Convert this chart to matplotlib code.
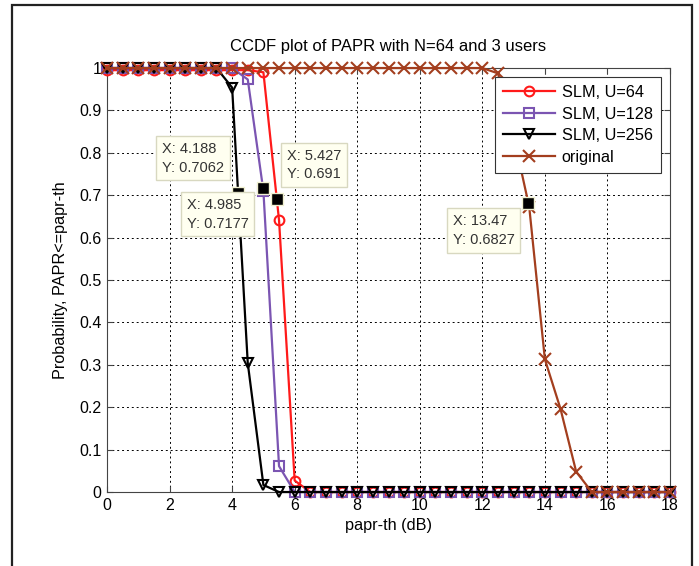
import matplotlib.pyplot as plt
import numpy as np
from matplotlib.patches import Rectangle

plt.rcParams['font.family'] = ['Liberation Sans', 'DejaVu Sans']

# threshold values (dB), one marker every 0.5 dB
papr_th = np.arange(0, 18.01, 0.5)

# CCDF values
slm_64 = [0.995] * 10 + [0.99, 0.641, 0.027] + [0.0] * 24
slm_128 = [1.0] * 9 + [0.973, 0.71, 0.061] + [0.0] * 25
slm_256 = [1.0] * 8 + [0.954, 0.304, 0.0165] + [0.0] * 26
original = [1.0] * 25 + [0.9875, 0.84, 0.672, 0.313, 0.196, 0.048] + [0.0] * 6

labels = ['SLM, U=64', 'SLM, U=128', 'SLM, U=256', 'original']
colors = ['#ff1a1a', '#7b55b2', '#000000', '#a33e1e']
markers = ['o', 's', 'v', 'x']

# data tips (x, y)
tip_x = [4.188, 4.985, 5.427, 13.47]
tip_y = [0.7062, 0.7177, 0.691, 0.6827]
tip_text = ['X: 4.188\nY: 0.7062', 'X: 4.985\nY: 0.7177',
            'X: 5.427\nY: 0.691', 'X: 13.47\nY: 0.6827']
tip_pos = [(1.76, 0.825), (2.55, 0.693), (5.76, 0.81), (11.05, 0.655)]

fig = plt.figure(figsize=(6.99, 5.66), dpi=100)
ax = fig.add_axes([0.1531, 0.1307, 0.8054, 0.7491])

series = [slm_64, slm_128, slm_256, original]
for vals, lab, c, m in zip(series, labels, colors, markers):
    ms = 8 if m == 'x' else 7
    ax.plot(papr_th, vals, color=c, marker=m, ms=ms, mfc='none', mec=c,
            mew=1.5, lw=1.6, label=lab, clip_on=False, zorder=3)

# data tip markers sit under the boxes
ax.plot(tip_x, tip_y, ls='none', marker='s', ms=8, mfc='black', mec='#f0f0d0',
        mew=1, zorder=4.5)
for (tx, ty), s in zip(tip_pos, tip_text):
    ax.text(tx, ty, s, ha='left', va='top', fontsize=10.5, color='#333333',
            linespacing=1.4, zorder=5,
            bbox=dict(boxstyle='square,pad=0.4', fc='#fffff0', ec='#d8d8c0', lw=1))

ax.set_xlim(0, 18)
ax.set_ylim(0, 1)
ax.set_xticks(np.arange(0, 19, 2))
ax.set_yticks(np.arange(0, 1.01, 0.1))
ax.set_yticklabels(['0', '0.1', '0.2', '0.3', '0.4', '0.5', '0.6', '0.7', '0.8', '0.9', '1'])
ax.tick_params(direction='in', top=True, right=True, labelsize=11.5, length=4,
               color='#444444', pad=4)
ax.grid(True, color='black', linestyle=(0, (2, 3)), linewidth=0.7)
for sp in ax.spines.values():
    sp.set_color('#444444')
    sp.set_linewidth(0.8)

ax.set_title('CCDF plot of PAPR with N=64 and 3 users', fontsize=12, pad=12)
ax.set_xlabel('papr-th (dB)', fontsize=11.7, labelpad=4)
ax.set_ylabel('Probability, PAPR<=papr-th', fontsize=11.7, labelpad=8)

leg = ax.legend(loc='upper right', bbox_to_anchor=(0.984, 0.979), borderaxespad=0,
                fontsize=11.7, fancybox=False, framealpha=1, edgecolor='#333333',
                handlelength=3.2, handletextpad=0.4, labelspacing=0.4, borderpad=0.5)
leg.set_zorder(4)
leg.get_frame().set_linewidth(0.8)

# outer frame around the figure
fig.patches.append(Rectangle((0.0172, -0.02), 0.9728, 1.011, transform=fig.transFigure,
                             fill=False, ec='#222222', lw=1.6))

fig.savefig('out.png', dpi=100)
